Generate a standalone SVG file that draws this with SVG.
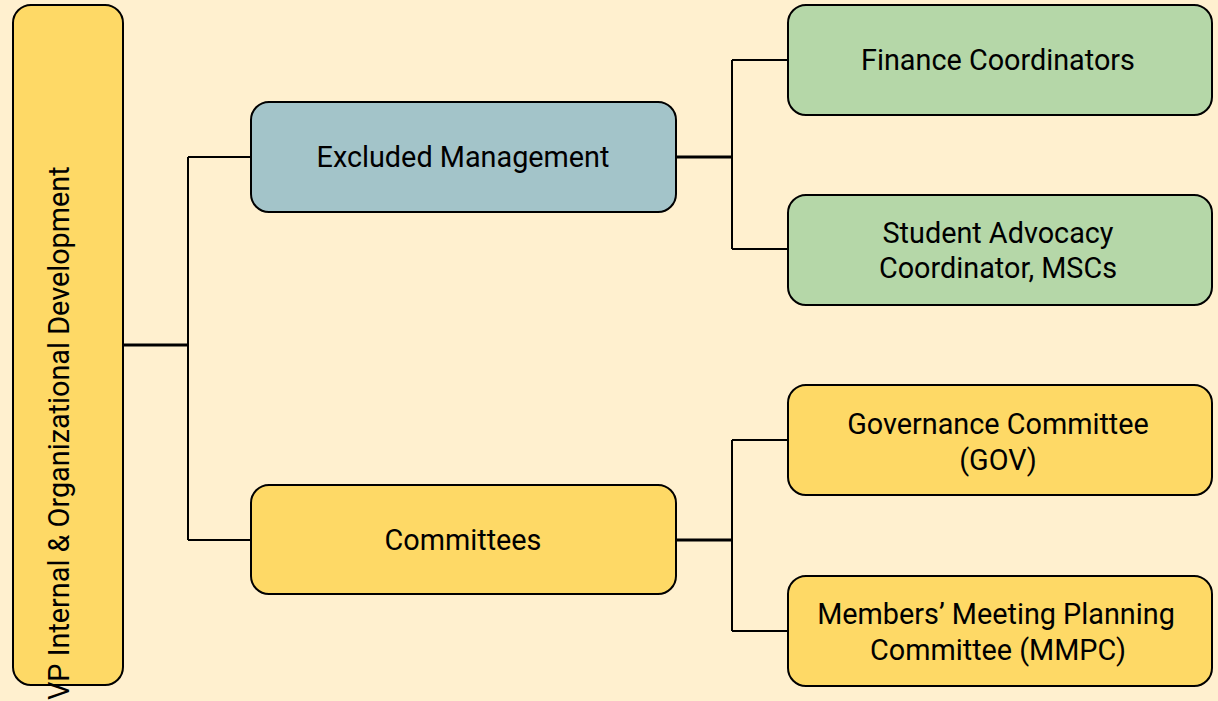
<svg xmlns="http://www.w3.org/2000/svg" width="1218" height="701" viewBox="0 0 1218 701">
<style>
.n{stroke:#000;stroke-width:2}
.t{font-family:Roboto,"Liberation Sans",sans-serif;font-size:28.8px;fill:#000;text-anchor:middle}
.c{fill:none;stroke:#000;stroke-width:2}
.p{fill:none;stroke:#000;stroke-width:3}
</style>
<rect width="1218" height="701" fill="#fff0cf"/>
<g id="connectors">
<path class="p" d="M123 345H188M676 157H732M676 540H732"/>
<path class="c" d="M188 157V540M188 157H251M188 540H251"/>
<path class="c" d="M732 60V249M732 60H788M732 249H788"/>
<path class="c" d="M732 440V631M732 440H788M732 631H788"/>
</g>
<g id="vp">
<rect class="n" x="13" y="5" width="110" height="680" rx="18" fill="#fed966"/>
<text class="t" style="text-anchor:start" transform="translate(69 700) rotate(-90)">VP Internal &amp; Organizational Development</text>
</g>
<g id="excluded">
<rect class="n" x="251" y="102" width="425" height="110" rx="18" fill="#a3c4c9"/>
<text class="t" x="463" y="167">Excluded Management</text>
</g>
<g id="committees">
<rect class="n" x="251" y="485" width="425" height="109" rx="18" fill="#fed966"/>
<text class="t" x="463" y="550">Committees</text>
</g>
<g id="finance">
<rect class="n" x="788" y="5" width="424" height="110" rx="18" fill="#b5d7a8"/>
<text class="t" x="998" y="70">Finance Coordinators</text>
</g>
<g id="advocacy">
<rect class="n" x="788" y="195" width="424" height="110" rx="18" fill="#b5d7a8"/>
<text class="t" x="998" y="243">Student Advocacy</text>
<text class="t" x="998" y="278">Coordinator, MSCs</text>
</g>
<g id="gov">
<rect class="n" x="788" y="385" width="424" height="110" rx="18" fill="#fed966"/>
<text class="t" x="998" y="434">Governance Committee</text>
<text class="t" x="998" y="470">(GOV)</text>
</g>
<g id="mmpc">
<rect class="n" x="788" y="576" width="424" height="110" rx="18" fill="#fed966"/>
<text class="t" x="996" y="624">Members’ Meeting Planning</text>
<text class="t" x="998" y="660">Committee (MMPC)</text>
</g>
</svg>
